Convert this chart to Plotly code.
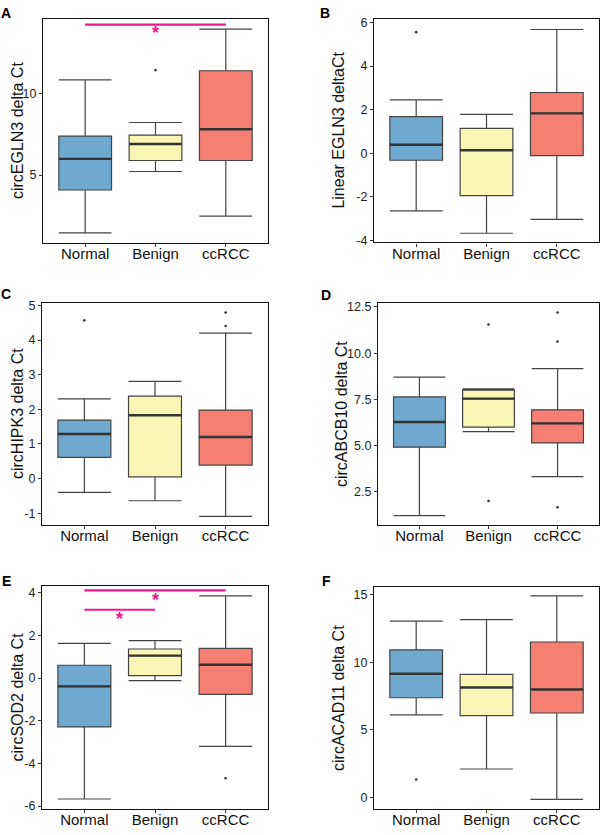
import plotly.graph_objects as go

W, H = 602, 835
categories = ["Normal", "Benign", "ccRCC"]
colors = ["#6FA9CF", "#FAF5B4", "#F47F72"]

titles = ["circEGLN3 delta Ct", "Linear EGLN3 deltaCt", "circHIPK3 delta Ct",
          "circABCB10 delta Ct", "circSOD2 delta Ct", "circACAD11 delta Ct"]
letters = ["A", "B", "C", "D", "E", "F"]

# box stats per category (Normal, Benign, ccRCC)
low_A = [1.47, 5.22, 2.50]; q1_A = [4.09, 5.89, 5.89]; med_A = [5.99, 6.90, 7.80]; q3_A = [7.38, 7.44, 11.37]; high_A = [10.81, 8.21, 13.91]
out_A = [[], [11.41], []]
low_B = [-2.64, -3.67, -3.03]; q1_B = [-0.32, -1.94, -0.11]; med_B = [0.39, 0.14, 1.83]; q3_B = [1.68, 1.14, 2.79]; high_B = [2.45, 1.79, 5.68]
out_B = [[5.56], [], []]
low_C = [-0.40, -0.64, -1.09]; q1_C = [0.61, 0.05, 0.39]; med_C = [1.29, 1.83, 1.20]; q3_C = [1.69, 2.38, 1.98]; high_C = [2.30, 2.81, 4.20]
out_C = [[4.57], [], [4.80, 4.41]]
low_D = [1.20, 5.75, 3.32]; q1_D = [4.91, 6.00, 5.14]; med_D = [6.27, 7.54, 6.20]; q3_D = [7.63, 8.00, 6.93]; high_D = [8.70, 8.07, 9.16]
out_D = [[], [11.55, 2.00], [12.20, 10.63, 1.66]]
low_E = [-5.67, -0.12, -3.20]; q1_E = [-2.29, 0.11, -0.77]; med_E = [-0.39, 1.05, 0.62]; q3_E = [0.60, 1.36, 1.39]; high_E = [1.62, 1.75, 3.85]
out_E = [[], [], [-4.70]]
low_F = [6.11, 2.10, -0.15]; q1_F = [7.38, 6.06, 6.25]; med_F = [9.16, 8.14, 7.99]; q3_F = [10.92, 9.11, 11.51]; high_F = [13.05, 13.17, 14.93]
out_F = [[1.32], [], []]

y_ranges = [[0.83, 14.54], [-4.09, 6.17], [-1.35, 5.08], [0.68, 12.73], [-6.15, 4.33], [-0.88, 15.61]]
y_ticks = [[5, 10], [-4, -2, 0, 2, 4, 6], [-1, 0, 1, 2, 3, 4, 5],
           [2.5, 5.0, 7.5, 10.0, 12.5], [-6, -4, -2, 0, 2, 4], [0, 5, 10, 15]]
y_ticktext = [["5", "10"], ["-4", "-2", "0", "2", "4", "6"], ["-1", "0", "1", "2", "3", "4", "5"],
              ["2.5", "5.0", "7.5", "10.0", "12.5"], ["-6", "-4", "-2", "0", "2", "4"], ["0", "5", "10", "15"]]

# significance marks
sig_panel = [0, 4, 4]
sig_from = [0, 0, 0]
sig_to = [2, 2, 1]
sig_bar_y = [14.19, 4.11, 3.20]
sig_star_x = [1.0, 1.0, 0.5]
sig_star_y = [13.67, 3.66, 2.77]

# layout geometry (pixels)
boxes = [(43, 268, 15, 242), (374, 599, 15, 241), (42, 268, 302, 527),
         (378, 599, 302, 527), (42, 268, 588, 814), (374, 599, 589, 814)]
letter_pos = [(6, 9), (325, 9), (6, 293), (326, 294), (6, 583), (326, 583)]
title_x = [17, 339, 17, 341, 17, 339]

stats = [(low_A, q1_A, med_A, q3_A, high_A, out_A), (low_B, q1_B, med_B, q3_B, high_B, out_B),
         (low_C, q1_C, med_C, q3_C, high_C, out_C), (low_D, q1_D, med_D, q3_D, high_D, out_D),
         (low_E, q1_E, med_E, q3_E, high_E, out_E), (low_F, q1_F, med_F, q3_F, high_F, out_F)]

FONT = "Liberation Sans, Arial, sans-serif"
BOXW = 0.75
fig = go.Figure()
layout = dict(width=W, height=H, margin=dict(l=0, r=0, t=0, b=0),
              paper_bgcolor="white", plot_bgcolor="white", showlegend=False,
              font=dict(family=FONT, color="#222"))
annotations = []

for p in range(6):
    sfx = "" if p == 0 else str(p + 1)
    xa, ya = "x" + sfx, "y" + sfx
    low, q1, med, q3, high, outs = stats[p]
    for i in range(3):
        fig.add_trace(go.Box(x=[i], q1=[q1[i]], median=[med[i]], q3=[q3[i]],
                             lowerfence=[low[i]], upperfence=[high[i]],
                             fillcolor=colors[i], line=dict(color="#444", width=1.2),
                             width=BOXW, whiskerwidth=1, boxpoints=False,
                             xaxis=xa, yaxis=ya, hoverinfo="skip"))
        fig.add_trace(go.Scatter(x=[i - BOXW / 2, i + BOXW / 2], y=[med[i], med[i]], mode="lines",
                                 line=dict(color="#333", width=2.4), xaxis=xa, yaxis=ya, hoverinfo="skip"))
        if outs[i]:
            fig.add_trace(go.Scatter(x=[i] * len(outs[i]), y=outs[i], mode="markers",
                                     marker=dict(color="#333", size=2.6), xaxis=xa, yaxis=ya, hoverinfo="skip"))
    x0, x1, y0, y1 = boxes[p]
    layout["xaxis" + sfx] = dict(domain=[x0 / W, x1 / W], range=[-0.6, 2.6], anchor=ya,
                                 tickvals=[0, 1, 2], ticktext=categories, ticks="outside", ticklen=3,
                                 tickcolor="#333", showgrid=False, zeroline=False,
                                 showline=True, mirror=True, linecolor="#111", linewidth=1.2,
                                 ticklabelstandoff=-6,
                                 tickfont=dict(size=15, color="#111", family=FONT))
    layout["yaxis" + sfx] = dict(domain=[1 - y1 / H, 1 - y0 / H], range=y_ranges[p], anchor=xa,
                                 tickvals=y_ticks[p], ticktext=y_ticktext[p], ticks="outside", ticklen=3,
                                 tickcolor="#333", showgrid=False, zeroline=False,
                                 showline=True, mirror=True, linecolor="#111", linewidth=1.2,
                                 tickfont=dict(size=12.5, color="#222", family=FONT))
    annotations.append(dict(text=titles[p], x=title_x[p] / W, y=1 - (y0 + y1) / 2 / H,
                            xref="paper", yref="paper", textangle=-90, showarrow=False,
                            xanchor="center", yanchor="middle",
                            font=dict(size=16, color="#111", family=FONT)))
    lx, ly = letter_pos[p]
    annotations.append(dict(text="<b>" + letters[p] + "</b>", x=lx / W, y=1 - ly / H, xref="paper", yref="paper",
                            showarrow=False, xanchor="center", yanchor="middle",
                            font=dict(size=14, color="black", family=FONT)))

for k in range(len(sig_panel)):
    p = sig_panel[k]
    sfx = "" if p == 0 else str(p + 1)
    fig.add_trace(go.Scatter(x=[sig_from[k], sig_to[k]], y=[sig_bar_y[k], sig_bar_y[k]], mode="lines",
                             line=dict(color="#F0168C", width=2.2), xaxis="x" + sfx, yaxis="y" + sfx,
                             hoverinfo="skip"))
    annotations.append(dict(text="<b>*</b>", x=sig_star_x[k], y=sig_star_y[k], xref="x" + sfx, yref="y" + sfx,
                            showarrow=False, xanchor="center", yanchor="middle", yshift=0,
                            font=dict(size=18, color="#F0168C", family=FONT)))

layout["annotations"] = annotations
fig.update_layout(**layout)
fig.write_html("out.html", config={"displayModeBar": False},
               post_script="document.body.style.margin='0';document.body.style.padding='0';")
